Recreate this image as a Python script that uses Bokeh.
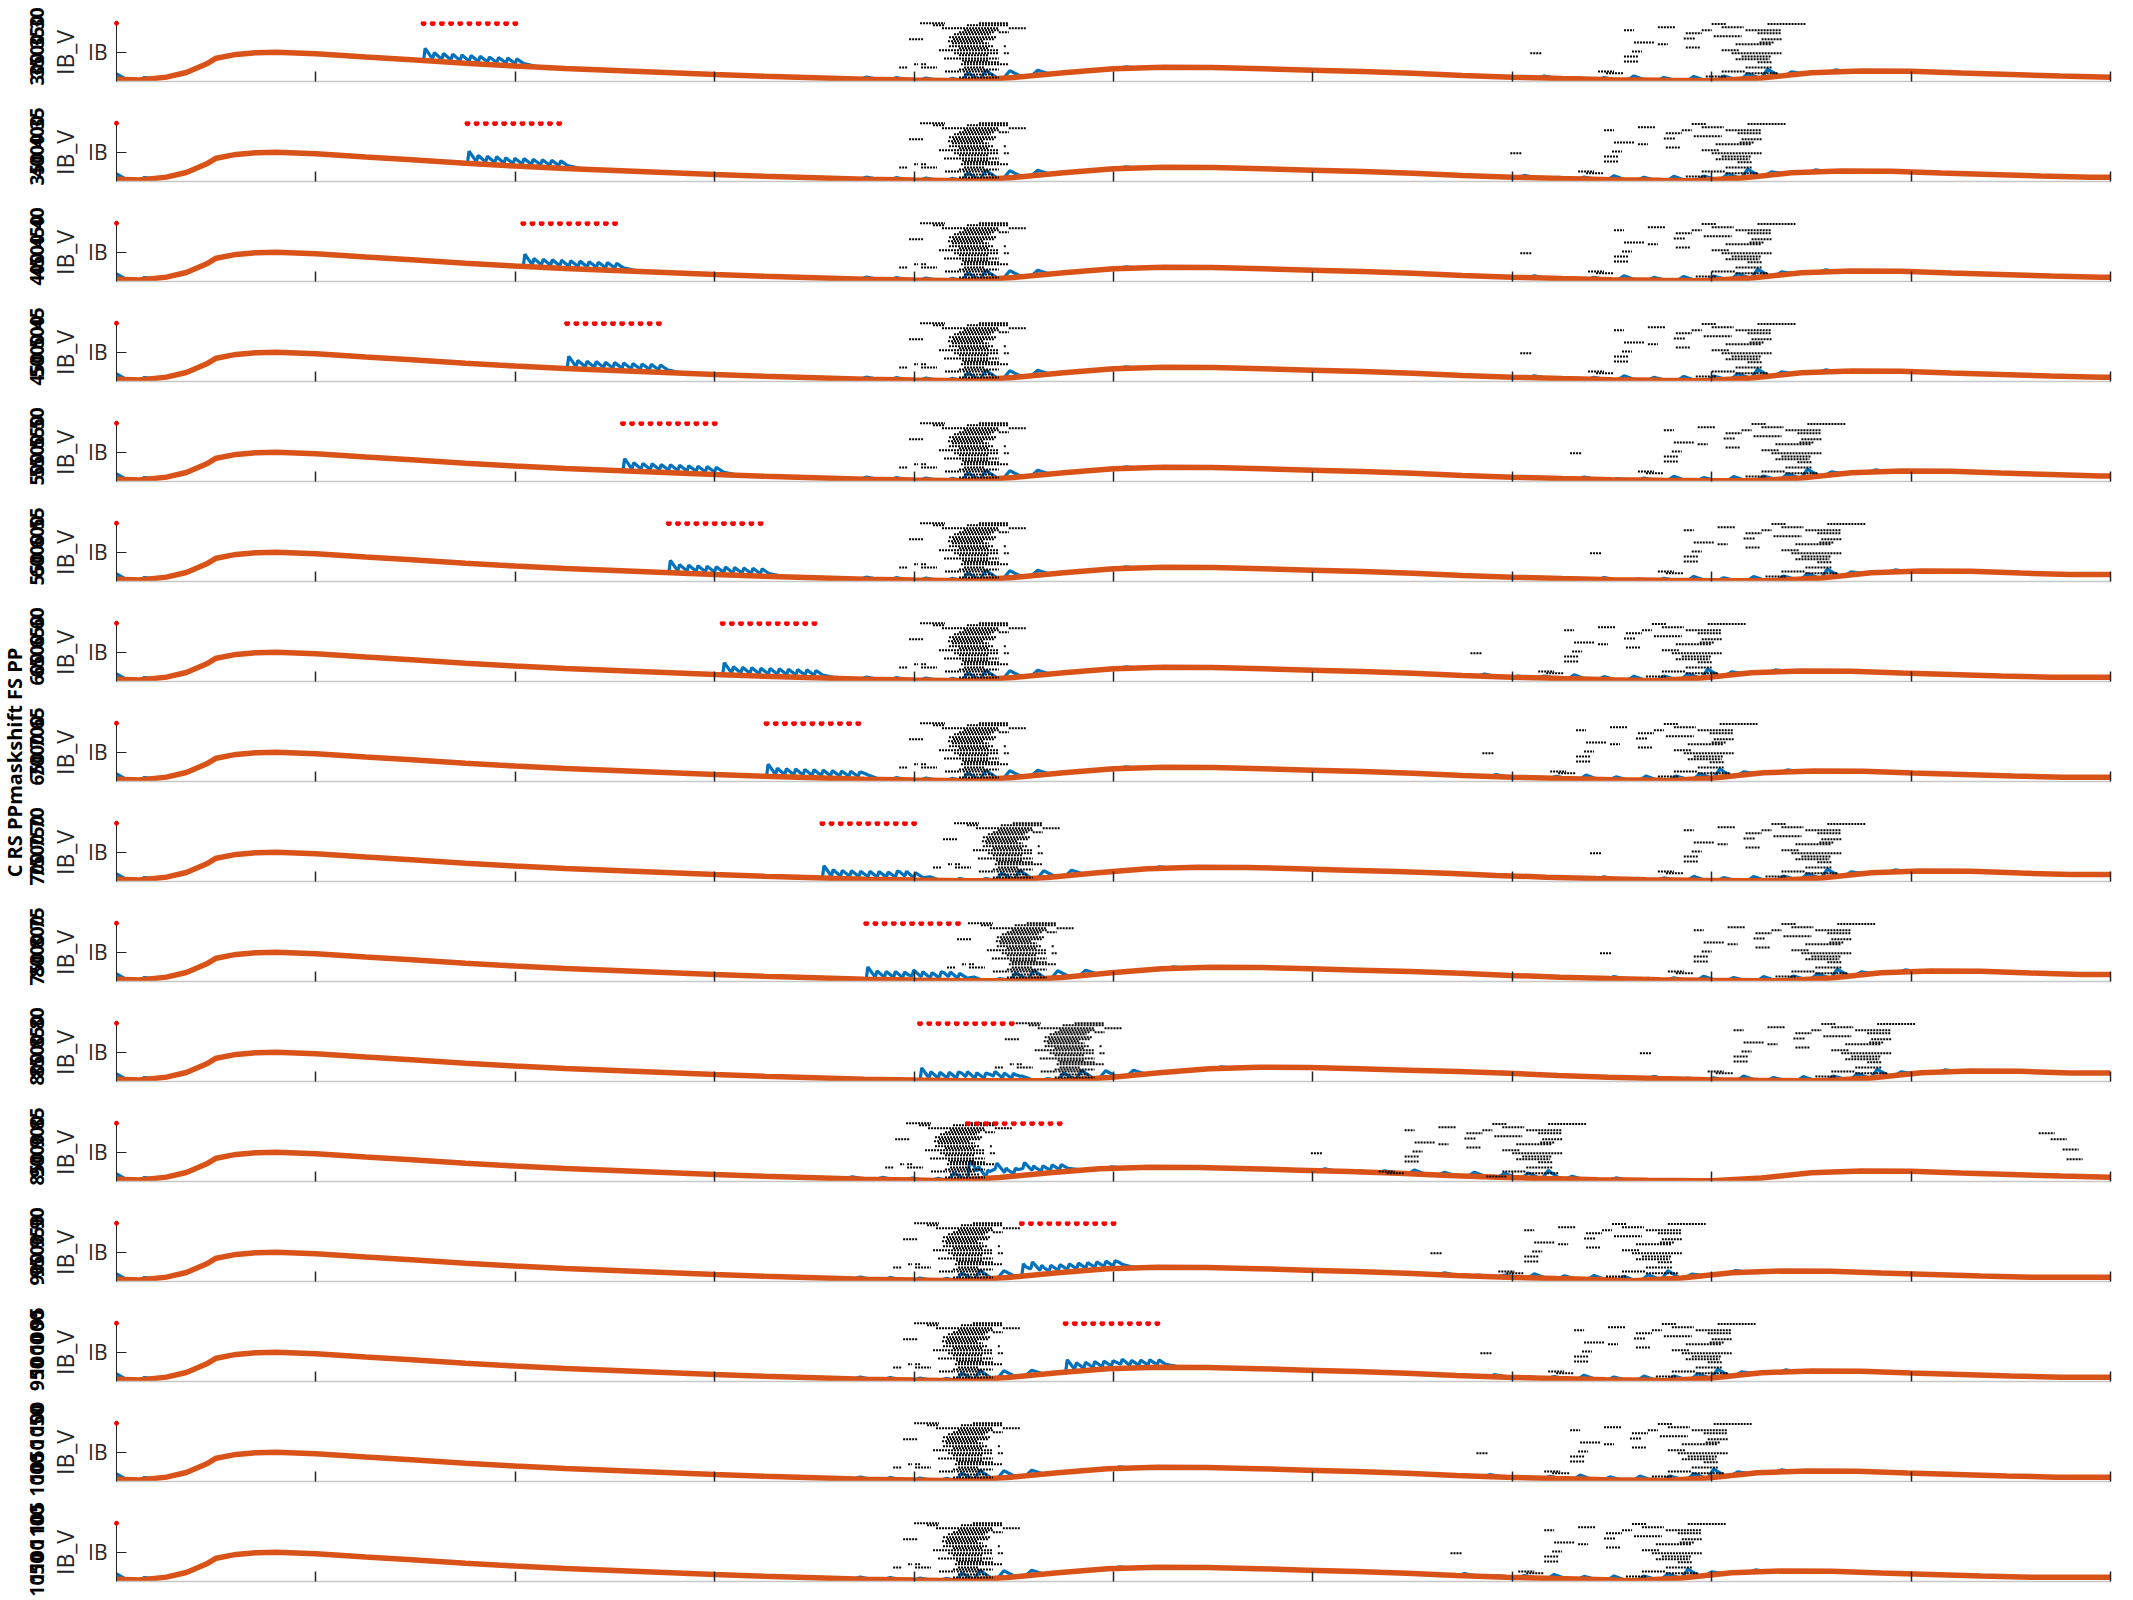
import numpy as np
from bokeh.plotting import figure
from bokeh.layouts import column, row
from bokeh.models import Range1d, FixedTicker
from bokeh.embed import file_html
from bokeh.resources import INLINE
from bokeh.core.properties import value

# ---------------- data ----------------
x_ticks = [1, 2, 3, 4, 5, 6, 7, 8, 9, 10]

# response profile (orange) of panel 1, x in time units, y in IB units
x_prof = [0.0, 0.12, 0.25, 0.35, 0.45, 0.5, 0.6, 0.7, 0.8, 0.9, 1.0, 1.25, 1.5, 1.75, 2.0, 2.25, 2.5,
          2.75, 3.0, 3.25, 3.5, 3.75, 4.0, 4.25, 4.5, 4.75, 5.0, 5.25, 5.5, 5.75, 6.0, 6.25,
          6.5, 6.75, 7.0, 7.25, 7.5, 7.75, 8.0, 8.25, 8.5, 8.75, 9.0, 9.25, 9.5, 9.75, 10.0]
y_prof = [0.08, 0.05, 0.15, 0.31, 0.60, 0.80, 0.93, 0.99, 1.00, 0.98, 0.95, 0.84, 0.74, 0.63, 0.53, 0.45, 0.38,
          0.31, 0.24, 0.18, 0.13, 0.08, 0.05, 0.03, 0.14, 0.30, 0.44, 0.49, 0.48, 0.44, 0.39, 0.34,
          0.28, 0.21, 0.15, 0.10, 0.06, 0.04, 0.03, 0.12, 0.30, 0.36, 0.35, 0.29, 0.24, 0.19, 0.15]

# stimulation train start per panel (None = no train)
stim_start = [1.54, 1.76, 2.04, 2.26, 2.54, 2.77, 3.04, 3.26, 3.54, 3.76, 4.03, 4.27, 4.54, 4.76, None, None]
pulse_gap = 0.046
pulse_peaks = [0.32, 0.19, 0.18, 0.18, 0.17, 0.17, 0.17, 0.16, 0.16, 0.16, 0.15]
plateau = 0.10

# onset of the two slow waves per panel
rise1 = [4.30, 4.30, 4.30, 4.30, 4.30, 4.30, 4.30, 4.30, 4.47, 4.54, 4.78, 4.23, 4.27, 4.27, 4.27, 4.27]
rise2 = [8.20, 8.10, 8.15, 8.15, 8.40, 8.50, 7.90, 7.96, 8.50, 8.55, 8.75, 8.20, 7.80, 7.95, 7.93, 7.80]
# event-cluster centres per panel
c1 = [4.30, 4.30, 4.30, 4.30, 4.30, 4.30, 4.30, 4.30, 4.47, 4.54, 4.78, 4.23, 4.27, 4.27, 4.27, 4.27]
c2 = [8.20, 8.10, 8.15, 8.15, 8.40, 8.50, 7.90, 7.96, 8.50, 8.55, 8.75, 7.10, 7.70, 7.95, 7.93, 7.80]
c3 = [None, None, None, None, None, None, None, None, None, None, None, 9.72, None, None, None, None]

# event marks of a dense cluster: (y, dx0, dx1)
cluster_a = [(2.00, -0.27, -0.145), (2.00, 0.025, 0.175), (1.93, -0.205, -0.145), (1.93, -0.035, 0.175),
             (1.83, -0.16, 0.125), (1.83, 0.175, 0.26), (1.76, -0.05, 0.125), (1.69, -0.075, 0.10),
             (1.69, 0.125, 0.175), (1.62, -0.10, 0.085), (1.52, -0.125, 0.115), (1.45, -0.325, -0.25),
             (1.45, -0.105, 0.10), (1.38, -0.13, 0.05), (1.31, -0.11, 0.075), (1.21, -0.125, 0.10),
             (1.21, 0.15, 0.165), (1.14, -0.075, 0.075), (1.07, -0.175, 0.125), (0.97, -0.10, 0.125),
             (0.97, 0.15, 0.175), (0.90, -0.075, 0.075), (0.79, -0.15, 0.125), (0.72, -0.06, 0.075),
             (0.66, -0.05, 0.125), (0.59, -0.30, -0.28), (0.59, -0.265, -0.235), (0.59, -0.065, 0.175),
             (0.48, -0.375, -0.335), (0.48, -0.265, -0.185), (0.48, -0.05, 0.05), (0.41, -0.075, 0.125),
             (0.34, -0.145, -0.065), (0.34, -0.055, 0.075), (0.24, -0.05, 0.10), (0.14, -0.075, 0.125)]
# event marks of a sparse cluster
cluster_b = [(0.97, -1.11, -1.05), (1.76, -0.64, -0.59), (1.86, -0.47, -0.38), (1.34, -0.59, -0.49),
             (1.28, -0.47, -0.42), (1.03, -0.60, -0.55), (0.86, -0.64, -0.57), (0.69, -0.64, -0.57),
             (0.34, -0.77, -0.69), (0.28, -0.73, -0.64), (1.66, -0.33, -0.25), (1.48, -0.34, -0.28),
             (1.17, -0.33, -0.26), (1.97, -0.20, -0.13), (1.86, -0.15, -0.04), (1.76, -0.25, -0.20),
             (1.76, -0.03, 0.15), (1.66, 0.03, 0.15), (1.97, 0.08, 0.27), (1.55, -0.19, -0.05),
             (1.45, 0.05, 0.15), (1.34, 0.04, 0.11), (1.28, -0.08, 0.10), (1.07, -0.15, -0.06),
             (0.97, -0.10, 0.15), (0.86, -0.05, 0.10), (0.76, -0.08, 0.09), (0.66, 0.03, 0.10),
             (0.48, -0.03, 0.10), (0.34, -0.15, -0.03), (0.28, -0.03, 0.13), (0.17, -0.23, -0.13)]
# a few isolated marks
cluster_c = [(1.66, -0.08, 0.0), (1.45, -0.02, 0.06), (1.10, 0.04, 0.12), (0.76, 0.06, 0.14)]
# small response bumps around clusters: (dx, height)
hills_a = [(-0.54, 0.07), (-0.39, 0.07), (-0.24, 0.07), (-0.11, 0.07), (-0.03, 0.25),
           (0.06, 0.30), (0.18, 0.24), (0.32, 0.17), (0.76, 0.05)]
hills_b = [(-1.04, 0.07), (-0.87, 0.04), (-0.74, 0.07), (-0.59, 0.14), (-0.44, 0.10), (-0.29, 0.14),
           (-0.14, 0.14), (-0.02, 0.17), (0.08, 0.28), (0.20, 0.10), (0.42, 0.07)]
start_hills = [(0.0, 0.18), (0.14, 0.07)]

y_tick_label = "IB"
y_axis_label = "IB_V"
side_a = ["300 350", "350 400", "400 450", "450 500", "500 550", "550 600", "600 650", "650 700",
          "700 750", "750 800", "800 850", "850 900", "900 950", "950 1000", "1000 1050", "1050 1100"]
side_b = ["3500 30", "4000 35", "4500 40", "5000 45", "5500 50", "6000 55", "6500 60", "7000 65",
          "7500 70", "8000 75", "8500 80", "9000 85", "9500 90", "1000 95", "1050 100", "1100 105"]
big_label = "C RS PPmaskshift FS PP"

BLUE = "#0072BD"
ORANGE = "#D95319"
AX = "#262626"
FONT = "Open Sans"
N = 16
PANEL_H = 100
STRIP_W = 85
FRAME_LEFT = 115


def orange_curve(k):
    xp = np.array(x_prof)
    yp = np.array(y_prof)
    d1 = rise1[k] - 4.30
    d2 = rise2[k] - 8.20
    iA = xp <= 4.25
    iB = (xp >= 4.25) & (xp <= 8.0)
    iC = xp >= 8.0
    xa, ya = xp[iA], yp[iA]
    xb, yb = xp[iB] + d1, yp[iB]
    xc, yc = xp[iC] + d2, yp[iC]
    m = xa <= xb[0]
    xa, ya = xa[m], ya[m]
    m = xb <= xc[0]
    xb, yb = xb[m], yb[m]
    m = xc <= 10.0
    xc, yc = xc[m], yc[m]
    X = np.concatenate([xa, xb, xc])
    Y = np.concatenate([ya, yb, yc])
    if X[-1] < 10.0:
        X = np.append(X, 10.0)
        Y = np.append(Y, Y[-1])
    return X, Y


def tri(x, c, h, wl, wr):
    return h * np.clip(np.minimum((x - (c - wl)) / wl, ((c + wr) - x) / wr), 0, 1)


def make_panel(k):
    p = figure(width=2133 - STRIP_W, height=PANEL_H, x_range=Range1d(0, 10), y_range=Range1d(0, 2.06),
               output_backend="svg", toolbar_location=None, min_border_left=FRAME_LEFT - STRIP_W,
               min_border_right=23, min_border_top=21, min_border_bottom=19)
    p.outline_line_color = None
    p.xgrid.visible = False
    p.ygrid.visible = False
    p.background_fill_color = "white"
    p.border_fill_color = "white"

    ox, oy = orange_curve(k)

    bumps = []  # (centre, height, left width, right width)
    for c, h in start_hills:
        bumps.append((max(c, 0.001), h, 0.001 if c == 0 else 0.03, 0.05))
    for dx, h in hills_a:
        bumps.append((c1[k] + dx, h, 0.03, 0.06))
    for dx, h in hills_b:
        bumps.append((c2[k] + dx, h, 0.03, 0.06))
    pulses = []
    if stim_start[k] is not None:
        pulses = [stim_start[k] + i * pulse_gap for i in range(len(pulse_peaks))]
        for t, h in zip(pulses, pulse_peaks):
            bumps.append((t + 0.008, h, 0.008, 0.034))
    verts = list(ox)
    for c, h, wl, wr in bumps:
        verts += [c - wl, c, c + wr]
    if pulses:
        s, e = pulses[0], pulses[-1] + 0.04
        verts += [s, s + 0.008, e, e + 0.08]
    bx = np.unique(np.clip(np.array(verts), 0, 10))
    by = np.interp(bx, ox, oy)
    for c, h, wl, wr in bumps:
        by = by + tri(bx, c, h, wl, wr)
    if pulses:
        s, e = pulses[0], pulses[-1] + 0.04
        by = by + plateau * np.clip(np.minimum((bx - s) / 0.008, (e + 0.08 - bx) / 0.08), 0, 1)

    p.line(bx, by, line_color=BLUE, line_width=3.2)
    p.line(ox, oy, line_color=ORANGE, line_width=5.5)

    # event marks
    sx0, sx1, sy = [], [], []
    for y, a, b in cluster_a:
        sx0.append(c1[k] + a); sx1.append(c1[k] + b); sy.append(y)
    for y, a, b in cluster_b:
        sx0.append(c2[k] + a); sx1.append(c2[k] + b); sy.append(y)
    if c3[k] is not None:
        for y, a, b in cluster_c:
            sx0.append(c3[k] + a); sx1.append(c3[k] + b); sy.append(y)
    p.segment(x0=sx0, y0=sy, x1=sx1, y1=sy, line_color="black", line_width=2, line_dash="2 1")

    # red markers
    if pulses:
        p.scatter(pulses, [2.0] * len(pulses), size=5, color="#FF0000")
    r = p.scatter([0.0], [2.0], size=4, color="#FF0000")
    r.level = "overlay"

    # axes
    xa = p.xaxis[0]
    xa.ticker = FixedTicker(ticks=x_ticks)
    xa.major_tick_in = 10
    xa.major_tick_out = 0
    xa.minor_tick_line_color = None
    xa.major_label_text_font_size = "0px"
    xa.major_label_text_color = None
    xa.major_label_standoff = 0
    xa.axis_line_color = "#c8c8c8"
    xa.axis_line_width = 1.5
    xa.major_tick_line_color = AX
    xa.major_tick_line_width = 1.5

    ya = p.yaxis[0]
    ya.ticker = FixedTicker(ticks=[1])
    ya.major_label_overrides = {1: y_tick_label}
    ya.major_tick_in = 10
    ya.major_tick_out = 0
    ya.minor_tick_line_color = None
    ya.axis_line_color = AX
    ya.major_tick_line_color = AX
    ya.major_label_text_font = FONT
    ya.major_label_text_font_size = "21px"
    ya.major_label_text_color = AX
    ya.major_label_standoff = 9
    return p


panels = [make_panel(k) for k in range(N)]

H = N * PANEL_H
strip = figure(width=STRIP_W, height=H, x_range=Range1d(0, STRIP_W), y_range=Range1d(0, H),
               output_backend="svg", toolbar_location=None, min_border=0)
strip.outline_line_color = None
strip.xaxis.visible = False
strip.yaxis.visible = False
strip.xgrid.visible = False
strip.ygrid.visible = False
ys = [H - (PANEL_H * k + PANEL_H / 2) for k in range(N)]
strip.text(x=[36] * N, y=ys, text=side_a, angle=np.pi / 2, text_align="center", text_baseline="middle",
           text_font=value(FONT), text_font_size="19px", text_font_style="bold", text_color="black")
strip.text(x=[36] * N, y=[v + 8 for v in ys], text=side_b, angle=np.pi / 2, text_align="center",
           text_baseline="middle", text_font=value(FONT), text_font_size="19px", text_font_style="bold",
           text_color="black")
strip.text(x=[64] * N, y=[H - (PANEL_H * k + 52) for k in range(N)], text=[y_axis_label] * N,
           angle=np.pi / 2, text_align="center", text_baseline="middle", text_font=value(FONT),
           text_font_size="23px", text_color=AX)
strip.text(x=[14], y=[H - 762], text=[big_label], angle=np.pi / 2, text_align="center",
           text_baseline="middle", text_font=value(FONT), text_font_size="20px", text_font_style="bold",
           text_color="black")

layout = row(strip, column(*panels, spacing=0), spacing=0)
open("out.html", "w").write(file_html(layout, INLINE))
